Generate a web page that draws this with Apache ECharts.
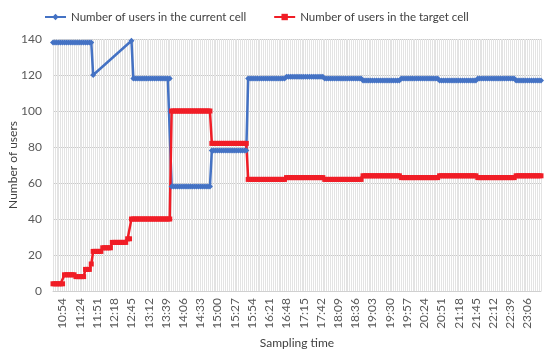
<!DOCTYPE html>
<html>
<head>
<meta charset="utf-8">
<script src="https://cdn.jsdelivr.net/npm/echarts@6/dist/echarts.min.js"></script>
<style>html,body{margin:0;padding:0;background:#fff}#c{width:550px;height:354px}</style>
</head>
<body>
<div id="c"></div>
<script>
// Tick labels on the sampling-time axis
const tickLabels = ['10:54','11:24','11:51','12:18','12:45','13:12','13:39','14:06','14:33','15:00','15:27','15:54','16:21','16:48','17:15','17:42','18:09','18:36','19:03','19:30','19:57','20:24','20:51','21:18','21:45','22:12','22:39','23:06'];
const sampleCount = 256;     // number of samples
const firstTickIndex = 5;    // sample index of first tick label
const tickStep = 9;          // samples between tick labels

// Series as run-length lists: value held for count samples (null = no sample)
const currentValues = [138, 120, null, 139, 118, 58, 78, 118, 119, 118, 117, 118, 117, 118, 117];
const currentCounts = [21, 1, 19, 1, 20, 21, 19, 20, 20, 20, 20, 20, 20, 20, 14];
const targetValues = [4, 9, 8, 12, 15, 22, 24, 27, 29, 40, 100, 82, 62, 63, 62, 64, 63, 64, 63, 64];
const targetCounts = [6, 6, 5, 3, 1, 5, 5, 8, 2, 21, 21, 19, 20, 20, 20, 20, 20, 20, 20, 14];

function expand(vals, counts) {
  const out = [];
  vals.forEach((v, k) => { for (let j = 0; j < counts[k]; j++) out.push(v); });
  return out;
}
const categories = [];
for (let i = 0; i < sampleCount; i++) {
  const r = i - firstTickIndex;
  categories.push(r >= 0 && r % tickStep === 0 ? tickLabels[r / tickStep] : '#' + i);
}
const isTick = (idx) => { const r = idx - firstTickIndex; return r >= 0 && r % tickStep === 0; };

const font = 'Lato, "Open Sans", sans-serif';
const chart = echarts.init(document.getElementById('c'), null, {renderer: 'canvas'});
chart.setOption({
  animation: false,
  backgroundColor: '#ffffff',
  textStyle: {fontFamily: font},
  legend: {
    top: 6, left: 39, itemGap: 27, itemWidth: 21, itemHeight: 8,
    textStyle: {fontFamily: font, fontSize: 11.5, color: '#404040'},
    data: ['Number of users in the current cell', 'Number of users in the target cell']
  },
  grid: {left: 53, right: 9, top: 39, bottom: 63, containLabel: false, outerBoundsMode: 'none'},
  xAxis: {
    type: 'category', boundaryGap: false, data: categories,
    name: 'Sampling time', nameLocation: 'middle', nameGap: 45,
    nameTextStyle: {fontFamily: font, fontSize: 12, color: '#404040'},
    axisLine: {show: true, lineStyle: {color: '#d0d0d0'}},
    axisTick: {show: false},
    axisLabel: {interval: isTick, rotate: 90, margin: 7, fontFamily: font, fontSize: 12, color: '#595959'},
    splitLine: {show: true, interval: 0, lineStyle: {color: '#e3e3e3', width: 1}}
  },
  yAxis: {
    type: 'value', min: 0, max: 140, interval: 20,
    name: 'Number of users', nameLocation: 'middle', nameGap: 34, nameMoveOverlap: false,
    nameTextStyle: {fontFamily: font, fontSize: 12, color: '#404040'},
    axisLine: {show: false}, axisTick: {show: false},
    axisLabel: {fontFamily: font, fontSize: 12, color: '#595959', margin: 11},
    splitLine: {lineStyle: {color: '#cbcbcb'}}
  },
  series: [
    {
      name: 'Number of users in the current cell', type: 'line',
      data: expand(currentValues, currentCounts), connectNulls: true,
      symbol: 'diamond', symbolSize: 6, showAllSymbol: true,
      color: '#4472c4', lineStyle: {width: 2.5, color: '#4472c4'},
      itemStyle: {color: '#4472c4'}
    },
    {
      name: 'Number of users in the target cell', type: 'line',
      data: expand(targetValues, targetCounts), connectNulls: true,
      symbol: 'rect', symbolSize: 5, showAllSymbol: true,
      color: '#f01d26', lineStyle: {width: 2.5, color: '#f01d26'},
      itemStyle: {color: '#f01d26'}
    }
  ]
});
</script>
</body>
</html>
